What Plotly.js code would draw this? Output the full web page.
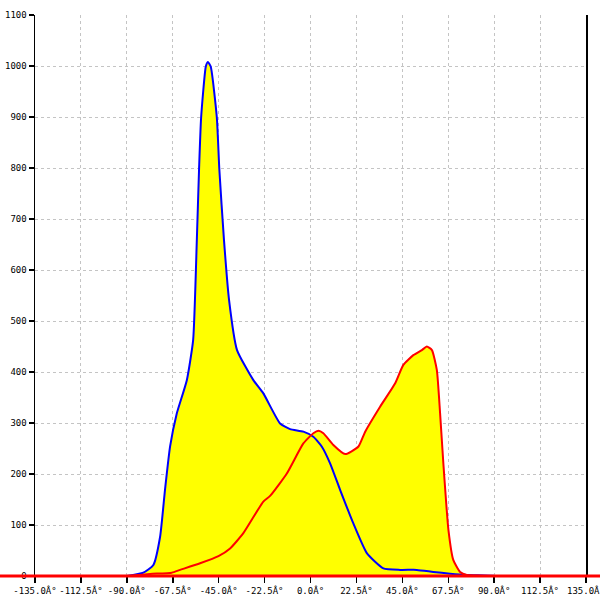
<!DOCTYPE html>
<html>
<head>
<meta charset="utf-8">
<script src="https://cdn.plot.ly/plotly-3.0.1.min.js"></script>
<style>html,body{margin:0;padding:0;background:#fff}#chart{width:600px;height:600px}</style>
</head>
<body>
<div id="chart"></div>
<script>
// Blue series (angle in degrees, count)
var blueX = [-90.0, -81.9, -77.0, -73.7, -71.3, -68.8, -65.5, -60.6, -57.5, -55.7, -54.6, -53.6, -51.3, -50.3, -48.9, -45.9, -44.7, -42.4, -39.9, -36.0, -28.0, -23.1, -14.9, -10.0, -3.5, 1.4, 5.5, 9.6, 14.5, 21.0, 27.6, 35.7, 43.9, 52.1, 60.2, 68.4, 76.6, 89.7, 90.0];
var blueY = [0, 6.5, 21.6, 77, 169, 254, 319, 384, 463, 659, 799, 899, 999, 1008, 999, 899, 799, 659, 541, 443, 384, 358, 299, 288, 283, 273, 254, 221, 169, 103, 45, 15, 12, 12, 8, 4.5, 2, 0.6, 0];
// Red series
var redX = [-90.0, -78.6, -68.0, -63.9, -54.1, -45.1, -39.4, -32.9, -23.1, -19.8, -11.6, -3.5, 1.4, 3.9, 6.3, 11.2, 17.0, 23.5, 26.8, 34.1, 41.5, 45.5, 50.4, 54.6, 57.0, 59.5, 61.9, 63.5, 65.1, 67.6, 70.0, 73.3, 76.6, 89.7];
var redY = [0, 4, 6.5, 12, 25, 39, 54, 84, 146, 157, 201, 260, 280, 285, 280, 257, 239, 254, 283, 332, 378, 414, 433, 443, 450, 443, 404, 319, 221, 90, 31, 8, 2, 0];
// Tick labels
var xTickVals = [-135, -112.5, -90, -67.5, -45, -22.5, 0, 22.5, 45, 67.5, 90, 112.5, 135];
var xTickText = ["-135.0\u00C2\u00B0", "-112.5\u00C2\u00B0", "-90.0\u00C2\u00B0", "-67.5\u00C2\u00B0", "-45.0\u00C2\u00B0", "-22.5\u00C2\u00B0", "0.0\u00C2\u00B0", "22.5\u00C2\u00B0", "45.0\u00C2\u00B0", "67.5\u00C2\u00B0", "90.0\u00C2\u00B0", "112.5\u00C2\u00B0", "135.0\u00C2\u00B0"];
var yTickVals = [0, 100, 200, 300, 400, 500, 600, 700, 800, 900, 1000, 1100];

var tickFont = {family: "DejaVu Sans Mono, monospace", size: 9, color: "#000"};

var traces = [
  {x: blueX, y: blueY, type: "scatter", mode: "lines", fill: "tozeroy", fillcolor: "#ffff00",
   line: {width: 0, shape: "spline", smoothing: 0.5}, hoverinfo: "skip", showlegend: false},
  {x: redX, y: redY, type: "scatter", mode: "lines", fill: "tozeroy", fillcolor: "#ffff00",
   line: {width: 0, shape: "spline", smoothing: 0.5}, hoverinfo: "skip", showlegend: false},
  {x: blueX, y: blueY, type: "scatter", mode: "lines",
   line: {color: "#0000ff", width: 2, shape: "spline", smoothing: 0.5}, showlegend: false},
  {x: redX, y: redY, type: "scatter", mode: "lines",
   line: {color: "#ff0000", width: 2, shape: "spline", smoothing: 0.5}, showlegend: false}
];

var layout = {
  width: 600, height: 600,
  margin: {l: 35, r: 14, t: 15, b: 24, pad: 0},
  paper_bgcolor: "#fff", plot_bgcolor: "#fff",
  showlegend: false,
  xaxis: {
    range: [-135, 135], tickmode: "array", tickvals: xTickVals, ticktext: xTickText,
    showgrid: true, gridcolor: "#c4c4c4", griddash: "3px,3px", gridwidth: 1,
    zeroline: false, showline: false,
    ticks: "outside", ticklen: 6, tickwidth: 1.5, tickcolor: "#000",
    tickfont: tickFont, ticklabeloverflow: "allow", fixedrange: true
  },
  yaxis: {
    range: [0, 1100], tickmode: "array", tickvals: yTickVals,
    showgrid: true, gridcolor: "#c4c4c4", griddash: "3px,3px", gridwidth: 1,
    zeroline: false, showline: true, mirror: true, linecolor: "#000", linewidth: 1.5,
    ticks: "outside", ticklen: 5, tickwidth: 1.5, tickcolor: "#000",
    tickfont: tickFont, fixedrange: true
  },
  shapes: [
    {type: "line", xref: "paper", yref: "paper", x0: -35/551, x1: 1 + 14/551, y0: 0, y1: 0,
     line: {color: "#ff0000", width: 3}, layer: "above"}
  ]
};

Plotly.newPlot("chart", traces, layout, {displayModeBar: false, staticPlot: true});
</script>
</body>
</html>
